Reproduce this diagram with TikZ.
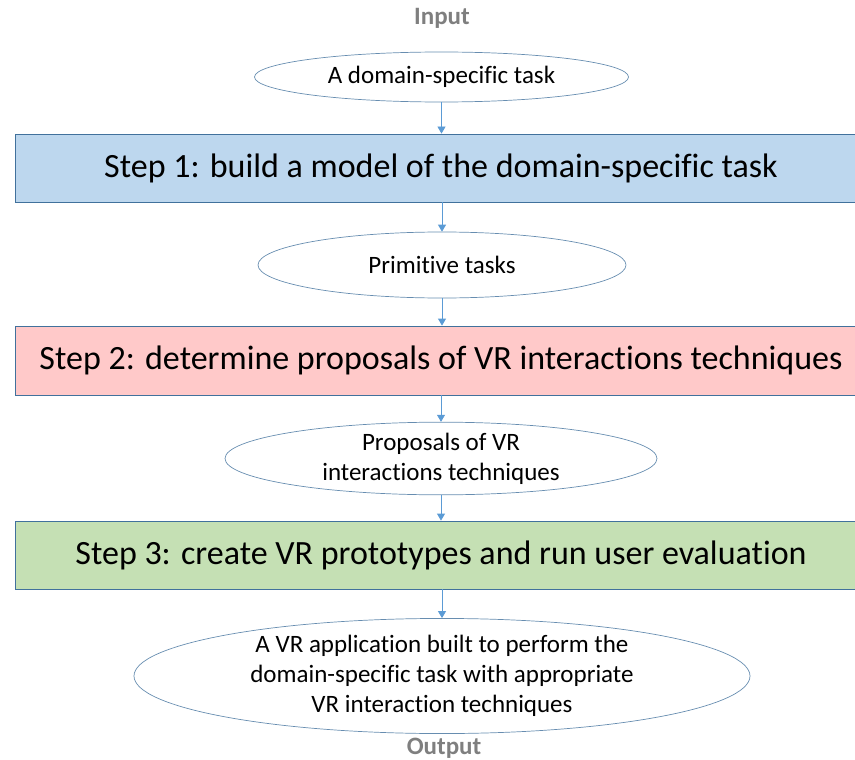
\documentclass[tikz,border=0pt]{standalone}
\usepackage{fontspec}
\setmainfont{Carlito}[Ligatures={NoCommon}]
\usetikzlibrary{shapes.geometric,arrows.meta}
\definecolor{boxline}{HTML}{41719C}
\definecolor{arrowc}{HTML}{5B9BD5}
\definecolor{fillA}{HTML}{BDD7EE}
\definecolor{fillB}{HTML}{FFC9C9}
\definecolor{fillC}{HTML}{C5E0B4}
\definecolor{labelgray}{HTML}{7F7F7F}
\tikzset{
  stepbox/.style={draw=boxline, line width=0.8pt, rectangle, minimum width=852pt, inner sep=0pt,
    font=\fontsize{34}{40}\selectfont},
  oval/.style={draw=boxline!80, line width=0.7pt, ellipse, inner sep=0pt, align=center,
    font=\fontsize{25}{30}\selectfont},
  iolabel/.style={text=labelgray, font=\fontsize{25}{28}\selectfont\bfseries},
  flow/.style={draw=arrowc, line width=0.8pt, -{Triangle[width=8pt,length=7pt]}},
}
\begin{document}
\begin{tikzpicture}[x=1pt,y=-1pt]
\useasboundingbox (0,0) rectangle (855,760);
\node[iolabel] (in) at (442,18) {Input};
\node[oval, minimum width=374pt, minimum height=50pt] (e1) at (441.5,77) {A domain-specific task};
\node[stepbox, fill=fillA, minimum height=68pt] (s1) at (441,168) {Step 1: build a model of the domain-specific task};
\node[oval, minimum width=368pt, minimum height=66pt] (e2) at (442,265) {Primitive tasks};
\node[stepbox, fill=fillB, minimum height=69pt] (s2) at (441,360.5) {Step 2: determine proposals of VR interactions techniques};
\node[oval, minimum width=432pt, minimum height=69pt] (e3) at (441,458.5) {Proposals of VR\\interactions techniques};
\node[stepbox, fill=fillC, minimum height=68pt] (s3) at (441,555) {Step 3: create VR prototypes and run user evaluation};
\node[oval, minimum width=616pt, minimum height=112pt] (e4) at (442,676) {A VR application built to perform the\\domain-specific task with appropriate\\VR interaction techniques};
\node[iolabel] (out) at (444,748) {Output};
\draw[flow] (e1.south) -- (e1.south |- s1.north);
\draw[flow] (s1.south -| e2.north) -- (e2.north);
\draw[flow] (e2.south) -- (e2.south |- s2.north);
\draw[flow] (s2.south -| e3.north) -- (e3.north);
\draw[flow] (e3.south) -- (e3.south |- s3.north);
\draw[flow] (s3.south -| e4.north) -- (e4.north);
\end{tikzpicture}
\end{document}
